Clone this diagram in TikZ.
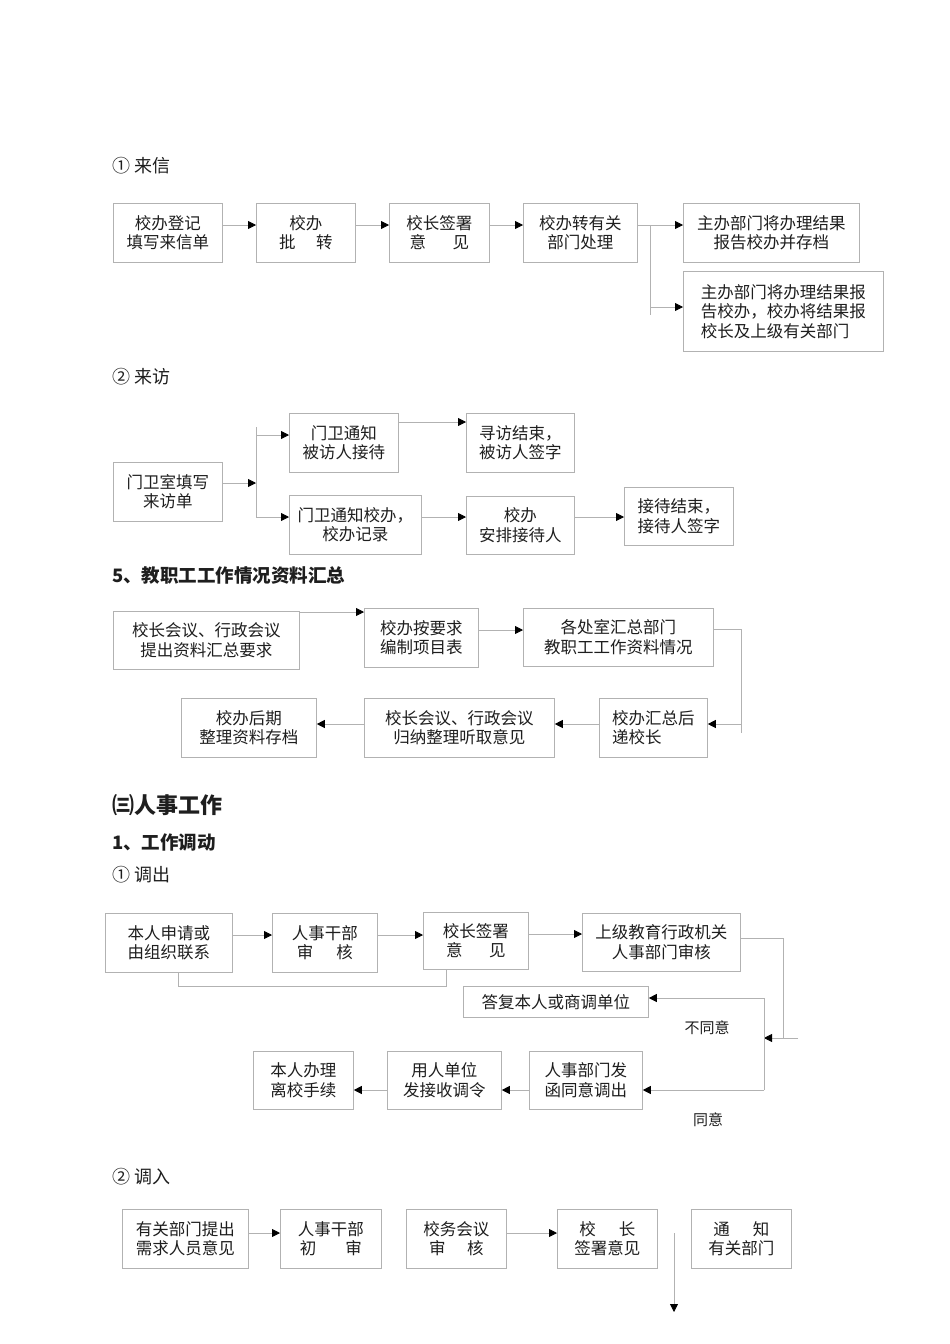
\documentclass[tikz,border=0pt]{standalone}
\usepackage{fontspec}
\setmainfont{Noto Sans CJK SC}
\usetikzlibrary{arrows.meta,positioning}
\usepackage{xcolor}
\definecolor{edge}{HTML}{B2B2B2}
\definecolor{ink}{HTML}{1E1E1E}
\tikzset{
  base/.style={font=\fontsize{16.5}{19.5}\selectfont,text=ink,align=center,draw=edge,line width=0.8pt,inner sep=2pt,anchor=north west,minimum height=59pt},
  box/.style={base},
  lbox/.style={base,align=left},
  title/.style={font=\fontsize{18}{21}\selectfont,text=ink,anchor=west,inner sep=0pt},
  head/.style={font=\bfseries\fontsize{18.5}{22}\selectfont,text=ink,anchor=west,inner sep=0pt},
  tag/.style={font=\fontsize{15}{18}\selectfont,text=ink,inner sep=0pt},
  flow/.style={-{Triangle[length=8pt,width=8pt,color=black]},draw=edge,line width=0.8pt},
  link/.style={draw=edge,line width=0.8pt}
}
\begin{document}
\begin{tikzpicture}[x=1pt,y=-1pt]
\fill[white] (0,0) rectangle (950,1344);
\useasboundingbox (0,0) rectangle (950,1344);

% letters
\node[title] (letter) at (112,166) {① 来信};
\node[box,minimum width=109pt] (reg) at (113,203) {校办登记\\填写来信单};
\node[box,minimum width=99pt] (pass) at (256,203) {校办\\批\hspace{1.25em}转};
\node[box,minimum width=100pt] (sign) at (389,203) {校长签署\\意\hspace{1.6em}见};
\node[box,minimum width=114pt] (forward) at (523,203) {校办转有关\\部门处理};
\node[box,minimum width=176pt] (archive) at (683,203) {主办部门将办理结果\\报告校办并存档};
\node[lbox,minimum width=200pt,minimum height=80pt] (report) at (683,271) {主办部门将办理结果报\\告校办，校办将结果报\\校长及上级有关部门};
\coordinate (forkA) at (650,225);
\coordinate (forkAend) at (650,315);

\draw[flow] (reg.east |- 0,225) -- (pass.west |- 0,225);
\draw[flow] (pass.east |- 0,225) -- (sign.west |- 0,225);
\draw[flow] (sign.east |- 0,225) -- (forward.west |- 0,225);
\draw[flow] (forward.east |- forkA) -- (archive.west |- forkA);
\draw[link] (forkA) -- (forkAend);
\draw[flow] (forkA |- 0,307) -- (report.west |- 0,307);

% visits
\node[title] (visit) at (112,377) {② 来访};
\node[box,minimum width=109pt] (gate) at (113,462) {门卫室填写\\来访单};
\node[box,minimum width=109pt] (host) at (289,413) {门卫通知\\被访人接待};
\node[box,minimum width=132pt] (record) at (289,495) {门卫通知校办，\\校办记录};
\node[lbox,minimum width=108pt] (hostend) at (466,413) {寻访结束，\\被访人签字};
\node[box,minimum width=108pt,minimum height=58pt] (arrange) at (466,496) {校办\\安排接待人};
\node[lbox,minimum width=109pt,minimum height=58pt] (recvend) at (624,487) {接待结束，\\接待人签字};
\coordinate (forkB) at (256,483);
\coordinate (forkBtop) at (256,427);
\coordinate (forkBbot) at (256,517);

\draw[flow] (gate.east |- forkB) -- (forkB);
\draw[link] (forkBtop) -- (forkBbot);
\draw[flow] (forkB |- 0,435) -- (host.west |- 0,435);
\draw[flow] (forkBbot) -- (record.west |- forkBbot);
\draw[flow] (host.east |- 0,422) -- (hostend.west |- 0,422);
\draw[flow] (record.east |- 0,517) -- (arrange.west |- 0,517);
\draw[flow] (arrange.east |- 0,517) -- (recvend.west |- 0,517);

% staff work summary
\node[head] (summary) at (112,575) {5、教职工工作情况资料汇总};
\node[box,minimum width=186pt,minimum height=58pt] (meetreq) at (113,611) {校长会议、行政会议\\提出资料汇总要求};
\node[box,minimum width=114pt] (table) at (364,608) {校办按要求\\编制项目表};
\node[box,minimum width=190pt,minimum height=58pt] (depts) at (523,608) {各处室汇总部门\\教职工工作资料情况};
\node[lbox,minimum width=108pt] (collect) at (599,698) {校办汇总后\\递校长};
\node[box,minimum width=190pt] (meetsum) at (364,698) {校长会议、行政会议\\归纳整理听取意见};
\node[box,minimum width=135pt] (store) at (181,698) {校办后期\\整理资料存档};
\coordinate (turnC) at (741,629);
\coordinate (turnCend) at (741,733);

\draw[flow] (meetreq.north east |- 0,612) -- (table.west |- 0,612);
\draw[flow] (table.east |- 0,630) -- (depts.west |- 0,630);
\draw[link] (depts.east |- turnC) -- (turnC) -- (turnCend);
\draw[flow] (turnC |- 0,724) -- (collect.east |- 0,724);
\draw[flow] (collect.west |- 0,724) -- (meetsum.east |- 0,724);
\draw[flow] (meetsum.west |- 0,724) -- (store.east |- 0,724);

% personnel
\node[head,font=\bfseries\fontsize{22}{26}\selectfont] (staff) at (112,805) {㈢人事工作};
\node[head] (transfer) at (112,842) {1、工作调动};
\node[title] (out) at (112,875) {① 调出};
\node[box,minimum width=127pt] (apply) at (105,913) {本人申请或\\由组织联系};
\node[box,minimum width=105pt] (hrcheck) at (272,913) {人事干部\\审\hspace{1.4em}核};
\node[box,minimum width=105pt,minimum height=57pt] (head) at (423,912) {校长签署\\意\hspace{1.6em}见};
\node[box,minimum width=158pt,minimum height=58pt] (bureau) at (582,913) {上级教育行政机关\\人事部门审核};
\node[box,minimum width=185pt,minimum height=31pt] (reply) at (463,986) {答复本人或商调单位};
\node[box,minimum width=113pt,minimum height=58pt] (letterout) at (529,1051) {人事部门发\\函同意调出};
\node[box,minimum width=114pt,minimum height=58pt] (order) at (387,1051) {用人单位\\发接收调令};
\node[box,minimum width=100pt,minimum height=58pt] (leave) at (253,1051) {本人办理\\离校手续};
\node[tag] (disagree) at (707,1028) {不同意};
\node[tag] (agree) at (708,1120) {同意};
\coordinate (loopD) at (446,986);
\coordinate (turnD) at (783,938);
\coordinate (turnDend) at (798,1038);
\coordinate (split) at (764,1038);
\coordinate (splitTop) at (764,998);
\coordinate (splitBot) at (764,1090);

\draw[flow] (apply.east |- 0,935) -- (hrcheck.west |- 0,935);
\draw[flow] (hrcheck.east |- 0,935) -- (head.west |- 0,935);
\draw[flow] (head.east |- 0,934) -- (bureau.west |- 0,934);
\draw[link] (apply.south -| 178,0) |- (loopD) -- (head.south -| loopD);
\draw[link] (bureau.east |- turnD) -- (turnD) -- (turnD |- turnDend);
\draw[flow] (turnDend) -- (split);
\draw[link] (splitTop) -- (splitBot);
\draw[flow] (splitTop) -- (reply.east |- splitTop);
\draw[flow] (splitBot) -- (letterout.east |- splitBot);
\draw[flow] (letterout.west |- splitBot) -- (order.east |- splitBot);
\draw[flow] (order.west |- splitBot) -- (leave.east |- splitBot);

\node[title] (in) at (112,1177) {② 调入};
\node[box,minimum width=126pt] (need) at (122,1209) {有关部门提出\\需求人员意见};
\node[box,minimum width=101pt] (first) at (280,1209) {人事干部\\初\hspace{1.75em}审};
\node[box,minimum width=100pt] (council) at (406,1209) {校务会议\\审\hspace{1.3em}核};
\node[box,minimum width=100pt] (approve) at (557,1209) {校\hspace{1.4em}长\\签署意见};
\node[box,minimum width=100pt] (notify) at (691,1209) {通\hspace{1.4em}知\\有关部门};
\coordinate (drop) at (674,1233);
\coordinate (dropend) at (674,1312);

\draw[flow] (need.east |- 0,1233) -- (first.west |- 0,1233);
\draw[flow] (council.east |- 0,1233) -- (approve.west |- 0,1233);
\draw[flow] (drop) -- (dropend);
\end{tikzpicture}
\end{document}
